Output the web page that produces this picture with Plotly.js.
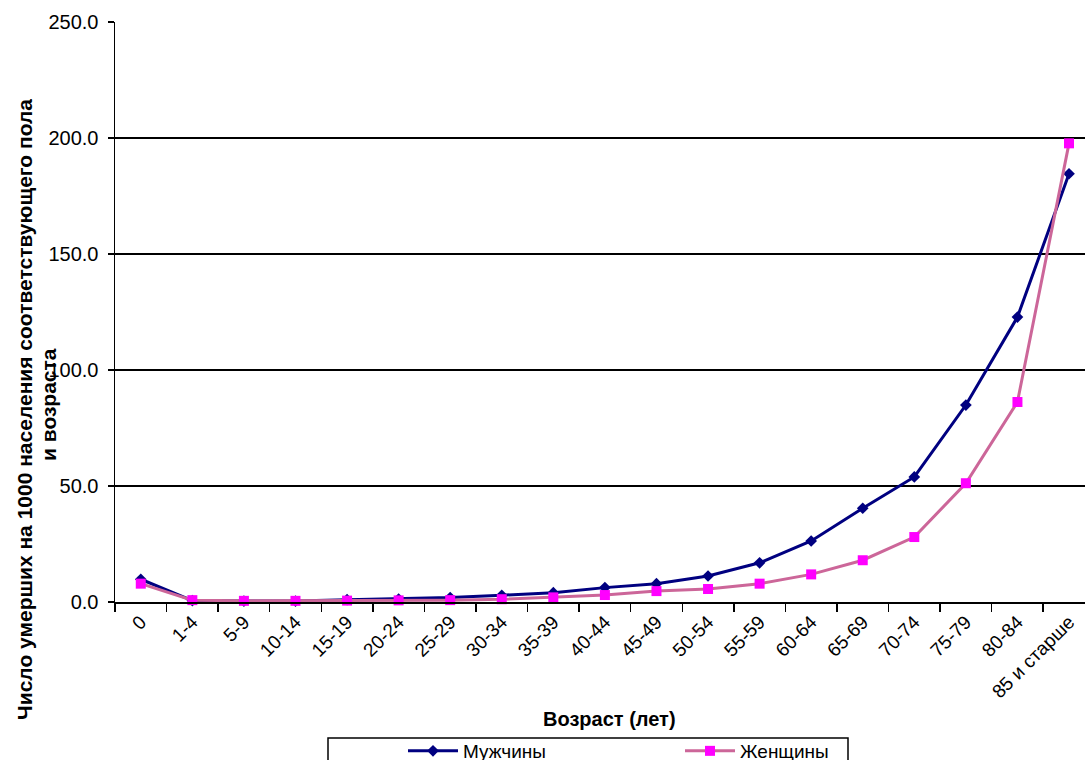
<!DOCTYPE html>
<html>
<head>
<meta charset="utf-8">
<script src="https://cdn.plot.ly/plotly-3.0.1.min.js"></script>
<style>html,body{margin:0;padding:0;background:#fff;}#chart{width:1085px;height:760px;}</style>
</head>
<body>
<div id="chart"></div>
<script>
const ageGroups = ['0','1-4','5-9','10-14','15-19','20-24','25-29','30-34','35-39','40-44','45-49','50-54','55-59','60-64','65-69','70-74','75-79','80-84','85 и старше'];
const men =   [9.8, 0.6, 0.4, 0.4, 1.0, 1.3, 1.9, 2.9, 4.0, 6.2, 7.9, 11.2, 16.9, 26.3, 40.4, 53.9, 84.9, 122.8, 184.6];
const women = [7.9, 0.8, 0.5, 0.5, 0.6, 0.7, 0.8, 1.2, 2.0, 3.0, 4.7, 5.6, 7.9, 11.9, 18.0, 28.0, 51.2, 86.2, 197.7];
const menName = 'Мужчины';
const womenName = 'Женщины';
const yTitleLines = ['Число умерших на 1000 населения соответствующего пола', 'и возраста'];
const xTitle = 'Возраст (лет)';

const FONT = 'Liberation Sans, Arial, sans-serif';

const traces = [
  {x: ageGroups, y: men, name: menName, type: 'scatter', mode: 'lines+markers',
   line: {color: '#000080', width: 3}, marker: {symbol: 'diamond', size: 9, color: '#000080'}, cliponaxis: false},
  {x: ageGroups, y: women, name: womenName, type: 'scatter', mode: 'lines+markers',
   line: {color: '#cc6699', width: 3}, marker: {symbol: 'square', size: 10, color: '#ff00ff'}, cliponaxis: false}
];

const layout = {
  width: 1085, height: 760,
  margin: {l: 115, r: 0, t: 22, b: 158, autoexpand: false},
  paper_bgcolor: '#fff', plot_bgcolor: '#fff',
  font: {family: FONT, size: 20, color: '#000'},
  xaxis: {
    type: 'category', range: [-0.5, 18.31], automargin: false,
    showgrid: false, zeroline: false,
    showline: true, linecolor: '#000', linewidth: 1.5,
    ticks: 'outside', ticklen: 8, tickwidth: 1.5, tickcolor: '#000',
    tickson: 'boundaries', tickangle: -45,
    tickfont: {family: FONT, size: 19, color: '#000'}
  },
  yaxis: {
    range: [0, 250], dtick: 50, tickformat: '.1f', automargin: false,
    showgrid: true, gridcolor: '#000', gridwidth: 1.5,
    zeroline: false, showline: true, linecolor: '#000', linewidth: 1.5,
    ticks: 'outside', ticklen: 6, tickwidth: 1.5, tickcolor: '#000',
    ticklabelstandoff: 5,
    tickfont: {family: FONT, size: 20, color: '#000'}
  },
  showlegend: true,
  legend: {
    orientation: 'h', xref: 'container', yref: 'container',
    x: 403 / 1085, xanchor: 'left',
    y: 1 - 732 / 760, yanchor: 'top',
    bgcolor: 'rgba(0,0,0,0)', borderwidth: 0,
    itemwidth: 50, entrywidth: 212, entrywidthmode: 'pixels',
    font: {family: FONT, size: 19, color: '#000'}
  },
  shapes: [
    {type: 'rect', xref: 'paper', yref: 'paper',
     x0: (328 - 115) / 970, x1: (848 - 115) / 970,
     y0: -(738 - 602) / 580, y1: -0.4,
     line: {color: '#000', width: 1.5}, fillcolor: 'rgba(0,0,0,0)', layer: 'above'}
  ],
  annotations: [
    {text: '<b>' + yTitleLines[0] + '</b>', xref: 'paper', yref: 'paper', x: (24 - 115) / 970, y: (602 - 410) / 580,
     xanchor: 'center', yanchor: 'middle', textangle: -90, showarrow: false,
     font: {family: FONT, size: 21, color: '#000'}},
    {text: '<b>' + yTitleLines[1] + '</b>', xref: 'paper', yref: 'paper', x: (48 - 115) / 970, y: (602 - 405) / 580,
     xanchor: 'center', yanchor: 'middle', textangle: -90, showarrow: false,
     font: {family: FONT, size: 21, color: '#000'}},
    {text: '<b>' + xTitle + '</b>', xref: 'paper', yref: 'paper', x: (609 - 115) / 970, y: -(719 - 602) / 580,
     xanchor: 'center', yanchor: 'middle', showarrow: false,
     font: {family: FONT, size: 20, color: '#000'}}
  ]
};

Plotly.newPlot('chart', traces, layout, {displayModeBar: false, staticPlot: true});
</script>
</body>
</html>
